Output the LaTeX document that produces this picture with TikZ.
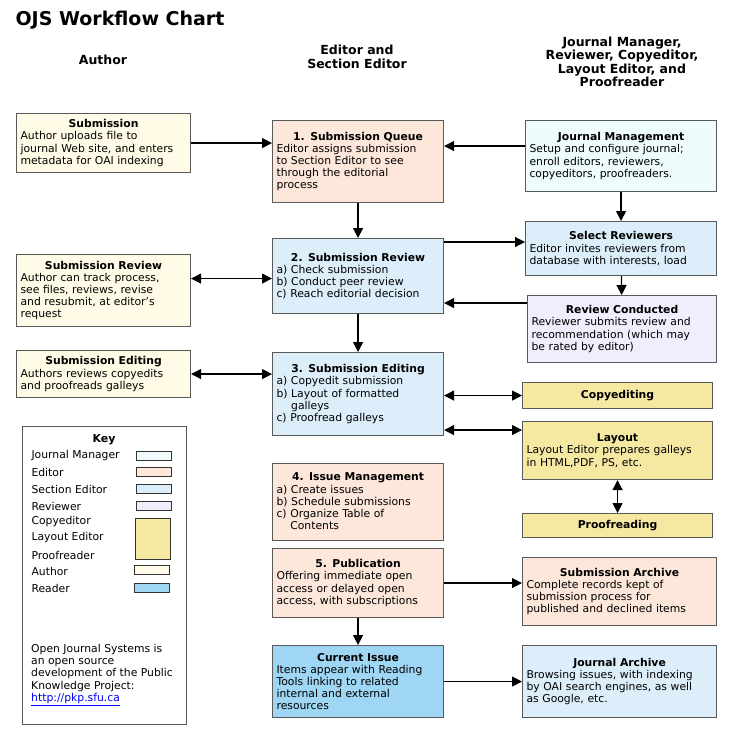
\documentclass[tikz,border=0pt]{standalone}
\usepackage{fontspec}
\setmainfont{DejaVu Sans}
\usetikzlibrary{arrows.meta,positioning}
\definecolor{authorc}{HTML}{FFFBE6}
\definecolor{editorc}{HTML}{FCE7DA}
\definecolor{sectionc}{HTML}{DCEEFA}
\definecolor{managerc}{HTML}{EEFCFD}
\definecolor{reviewerc}{HTML}{F0EDFC}
\definecolor{copyc}{HTML}{F4E8A2}
\definecolor{readerc}{HTML}{9ED6F4}
\newcommand\hd[1]{\makebox[\linewidth][c]{\textbf{#1}}\\}

\begin{document}
\begin{tikzpicture}[x=1pt,y=-1pt,font=\fontsize{10.8}{12.2}\selectfont]
	\tikzstyle{card} = [rectangle, anchor=north west, draw=black!65, line width=1.1,
	inner sep=4, align=left]
	\tikzstyle{swatch} = [rectangle, draw=black!80, line width=1, anchor=north west]
	\tikzstyle{arw} = [line width=1.2, -{Triangle[length=10,width=10]}]
	\tikzstyle{dbl} = [line width=1.2, {Triangle[length=10,width=10]}-{Triangle[length=10,width=10]}]
	\useasboundingbox (0,0) rectangle (738,738);
	% headings
	\node (title) [anchor=west, font=\fontsize{19}{22}\selectfont\bfseries] at (12,20) {OJS Workflow Chart};
	\node (hauthor) [font=\fontsize{12.5}{14}\selectfont\bfseries] at (103,60) {Author};
	\node (heditor) [align=center, font=\fontsize{12.5}{14}\selectfont\bfseries] at (357,57) {Editor and\\Section Editor};
	\node (hmanager) [align=center, font=\fontsize{12.5}{13.5}\selectfont\bfseries] at (622,62) {Journal Manager,\\Reviewer, Copyeditor,\\Layout Editor, and\\Proofreader};
	% author column
	\node (asub) [card, fill=authorc, minimum width=174, minimum height=59, text width=166] at (16,113)
	{\hd{Submission}Author uploads file to\\journal Web site, and enters\\metadata for OAI indexing};
	\node (areview) [card, fill=authorc, minimum width=174, minimum height=72, text width=166] at (16,254)
	{\hd{Submission Review}Author can track process,\\see files, reviews, revise\\and resubmit, at editor's\\request};
	\node (aedit) [card, fill=authorc, minimum width=174, minimum height=47, text width=166] at (16,350)
	{\hd{Submission Editing}Authors reviews copyedits\\and proofreads galleys};
	% key
	\node (key) [card, fill=white, minimum width=164, minimum height=298] at (22,426) {};
	\node (keyt) [font=\fontsize{11}{12}\selectfont\bfseries] at (104,440) {Key};
	\foreach \t/\y in {Journal Manager/456, Editor/472, Section Editor/489, Reviewer/506,
		Copyeditor/522, Layout Editor/538, Proofreader/555, Author/571, Reader/588}
		\node [anchor=west] at (28,\y) {\t};
	\node (kmanager) [swatch, fill=managerc, minimum width=35, minimum height=9] at (136,451) {};
	\node (keditor) [swatch, fill=editorc, minimum width=35, minimum height=9] at (136,467) {};
	\node (ksection) [swatch, fill=sectionc, minimum width=35, minimum height=9] at (136,484) {};
	\node (kreviewer) [swatch, fill=reviewerc, minimum width=35, minimum height=9] at (136,501) {};
	\node (kcopy) [swatch, fill=copyc, minimum width=35, minimum height=41] at (135,518) {};
	\node (kauthor) [swatch, fill=authorc, minimum width=35, minimum height=9] at (134,565) {};
	\node (kreader) [swatch, fill=readerc, minimum width=35, minimum height=9] at (134,583) {};
	\node (kfoot) [anchor=north west, align=left, inner sep=0] at (31,644)
	{Open Journal Systems is\\an open source\\development of the Public\\Knowledge Project:\\\textcolor{blue}{\underline{http://pkp.sfu.ca}}};
	% editor column
	\node (queue) [card, fill=editorc, minimum width=171, minimum height=82, text width=163] at (272,120)
	{\hd{1. Submission Queue}Editor assigns submission\\to Section Editor to see\\through the editorial\\process};
	\node (review) [card, fill=sectionc, minimum width=171, minimum height=75, text width=163] at (272,238)
	{\hd{2. Submission Review}a) Check submission\\b) Conduct peer review\\c) Reach editorial decision};
	\node (edit) [card, fill=sectionc, minimum width=171, minimum height=83, text width=163] at (272,352)
	{\hd{3. Submission Editing}a) Copyedit submission\\b) Layout of formatted\\\phantom{b) }galleys\\c) Proofread galleys};
	\node (issue) [card, fill=editorc, minimum width=171, minimum height=77, text width=163] at (272,463)
	{\hd{4. Issue Management}a) Create issues\\b) Schedule submissions\\c) Organize Table of\\\phantom{c) }Contents};
	\node (pub) [card, fill=editorc, minimum width=171, minimum height=69, text width=163] at (272,548)
	{\hd{5. Publication}Offering immediate open\\access or delayed open\\access, with subscriptions};
	\node (current) [card, fill=readerc, minimum width=171, minimum height=72, text width=163] at (272,645)
	{\hd{Current Issue}Items appear with Reading\\Tools linking to related\\internal and external\\resources};
	% manager column
	\node (jm) [card, fill=managerc, minimum width=191, minimum height=71, text width=183] at (525,120)
	{\hd{Journal Management}Setup and configure journal;\\enroll editors, reviewers,\\copyeditors, proofreaders.};
	\node (selrev) [card, fill=sectionc, minimum width=191, minimum height=54, text width=183] at (525,221)
	{\hd{Select Reviewers}Editor invites reviewers from\\database with interests, load};
	\node (rc) [card, fill=reviewerc, minimum width=189, minimum height=67, text width=181] at (527,295)
	{\hd{Review Conducted}Reviewer submits review and\\recommendation (which may\\be rated by editor)};
	\node (copy) [card, fill=copyc, minimum width=190, minimum height=26, font=\fontsize{10.8}{12}\selectfont\bfseries, align=center] at (522,382) {Copyediting};
	\node (layout) [card, fill=copyc, minimum width=190, minimum height=58, text width=182] at (522,421)
	{\hd{Layout}Layout Editor prepares galleys\\in HTML,PDF, PS, etc.};
	\node (proof) [card, fill=copyc, minimum width=190, minimum height=24, font=\fontsize{10.8}{12}\selectfont\bfseries, align=center] at (522,513) {Proofreading};
	\node (sarch) [card, fill=editorc, minimum width=194, minimum height=68, text width=186] at (522,557)
	{\hd{Submission Archive}Complete records kept of\\submission process for\\published and declined items};
	\node (jarch) [card, fill=sectionc, minimum width=194, minimum height=72, text width=186] at (522,645)
	{\hd{Journal Archive}Browsing issues, with indexing\\by OAI search engines, as well\\as Google, etc.};
	% connectors
	\draw [arw] (asub) -- (queue.west |- asub);
	\draw [arw] ([yshift=10]jm.west) -- ([yshift=10]jm.west -| queue.east);
	\draw [arw] (queue) -- (review);
	\draw [arw] (jm) -- (selrev);
	\draw [arw] ([yshift=-4]review.north east) -- ([yshift=-4]review.north east -| selrev.west);
	\draw [arw] (selrev) -- (rc);
	\draw [arw] ([yshift=-27]review.east -| rc.west) -- ([yshift=-27]review.east);
	\draw [dbl] ([yshift=12]areview.east) -- ([yshift=12]areview.east -| review.west);
	\draw [arw] (review) -- (edit);
	\draw [dbl] (aedit) -- (edit.west |- aedit);
	\draw [dbl] (edit.east |- copy) -- (copy);
	\draw [dbl] ([yshift=-36]edit.east) -- ([yshift=-36]edit.east -| layout.west);
	\draw [dbl] (layout) -- (proof);
	\draw [arw] (pub.east) -- (pub.east -| sarch.west);
	\draw [arw] (pub) -- (current);
	\draw [arw] (current) -- (jarch);
\end{tikzpicture}
\end{document}
